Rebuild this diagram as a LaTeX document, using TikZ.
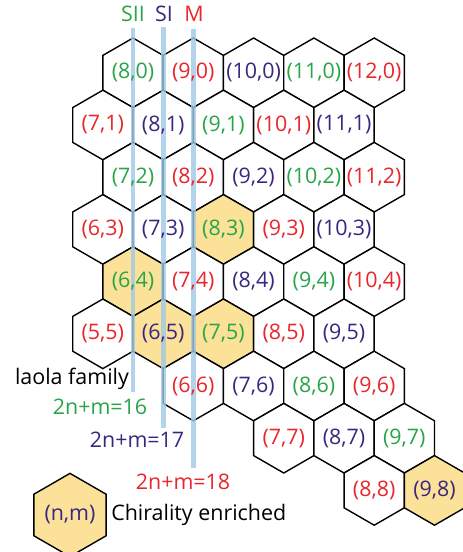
\documentclass[tikz,border=0pt]{standalone}
\usepackage{fontspec}
\setmainfont{Open Sans}
\usetikzlibrary{shapes.geometric,positioning}

\definecolor{metal}{RGB}{232,38,43}
\definecolor{semiI}{RGB}{58,38,128}
\definecolor{semiII}{RGB}{40,165,72}
\definecolor{enrich}{RGB}{251,226,152}
\definecolor{famblue}{RGB}{160,200,230}

\begin{document}
\begin{tikzpicture}[x=1bp, y=-1bp,
    every node/.style={font=\fontsize{21.5}{24}\selectfont},
    hex/.style={regular polygon, regular polygon sides=6, shape border rotate=30,
        minimum size=69.6bp, inner sep=0pt, draw=black, line width=1.4pt, fill=white},
    col0/.style={text=metal}, col1/.style={text=semiI}, col2/.style={text=semiII},
    hx8-3/.style={fill=enrich}, hx6-4/.style={fill=enrich}, hx6-5/.style={fill=enrich},
    hx7-5/.style={fill=enrich}, hx9-8/.style={fill=enrich},
    famline/.style={draw=famblue, line width=4.5bp, draw opacity=0.8}]
    \useasboundingbox (0,0) rectangle (463,552);
    % chirality map
    \foreach \m/\first/\last in {0/8/12,1/7/11,2/7/11,3/6/10,4/6/10,5/5/9,6/6/9,7/7/9,8/8/9}{
        \foreach \n in {\first,...,\last}{
            \pgfmathsetmacro{\px}{133+60.3*(\n+0.5*\m-8)}
            \pgfmathsetmacro{\py}{72.8+52.2*\m}
            \node[hex, hx\n-\m/.try] (h\n-\m) at (\px,\py) {};
        }
    }
    % 2n+m families
    \coordinate (sii top) at (133,28);  \coordinate (sii bot) at (133,392);
    \coordinate (si top) at (163.3,27); \coordinate (si bot) at (163.3,428);
    \coordinate (m top) at (193.6,29);  \coordinate (m bot) at (193.6,468);
    \draw[famline] (sii top) -- (sii bot);
    \draw[famline] (si top) -- (si bot);
    \draw[famline] (m top) -- (m bot);
    % indices on top
    \foreach \m/\first/\last in {0/8/12,1/7/11,2/7/11,3/6/10,4/6/10,5/5/9,6/6/9,7/7/9,8/8/9}{
        \foreach \n in {\first,...,\last}{
            \pgfmathtruncatemacro{\k}{mod(\n-\m+30,3)}
            \node[col\k] (t\n-\m) at (h\n-\m) {(\n,\m)};
        }
    }
    \node[semiII] (sii lab) at (133,14) {SII};
    \node[semiI] (si lab) at (164,14) {SI};
    \node[metal] (m lab) at (194,14) {M};
    \node (laola) at (72,379) {laola family};
    \node[semiII] (f16) at (100,407) {2n+m=16};
    \node[semiI] (f17) at (137,440) {2n+m=17};
    \node[metal] (f18) at (183,482) {2n+m=18};
    % legend
    \node[hex, col1, fill=enrich] (key) at (70,515) {(n,m)};
    \node[right=1bp of key] (key lab) {Chirality enriched};
\end{tikzpicture}
\end{document}
